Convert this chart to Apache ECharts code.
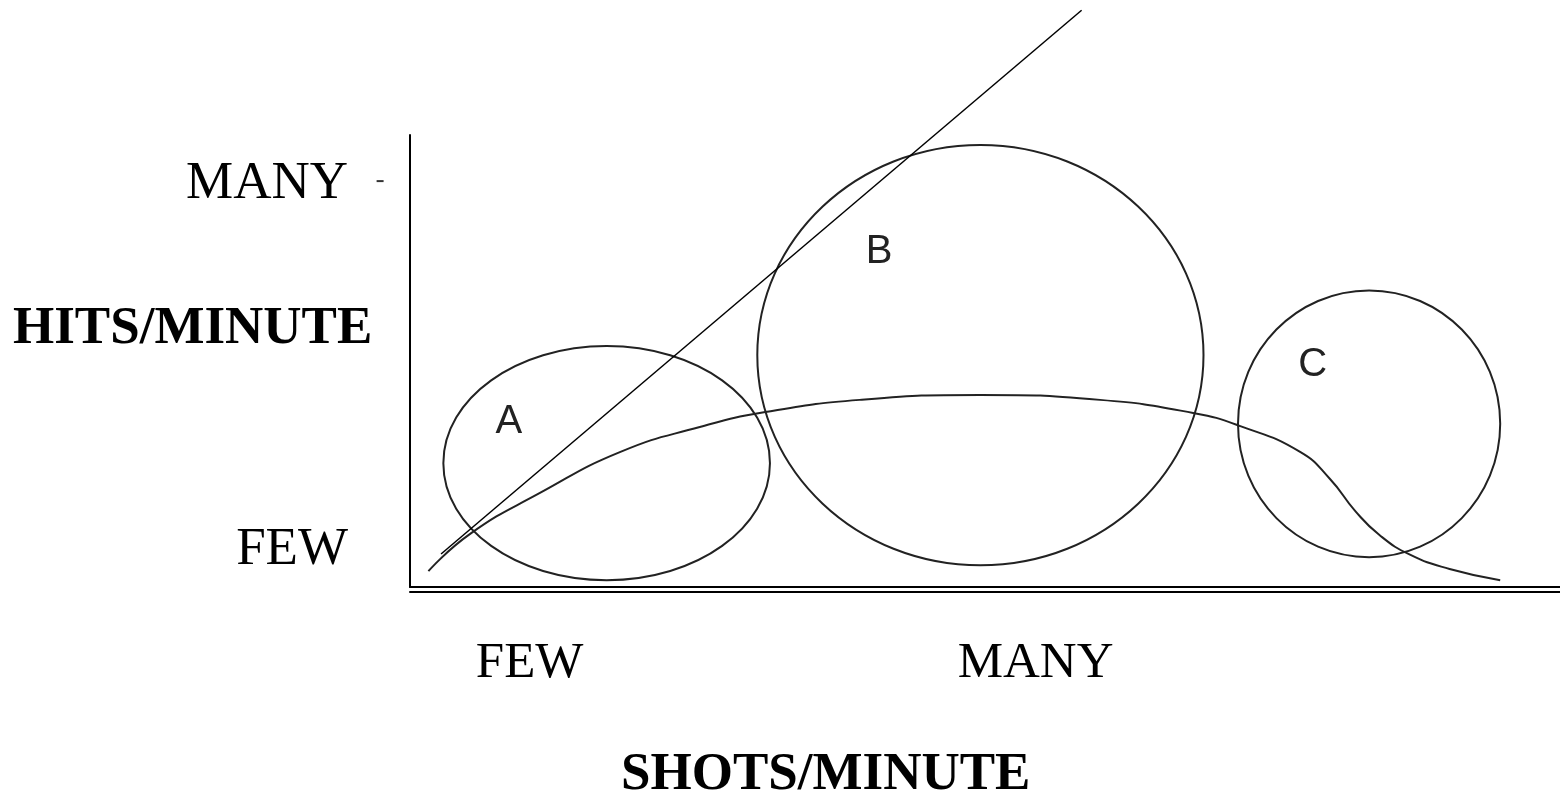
<!DOCTYPE html>
<html>
<head>
<meta charset="utf-8">
<script src="https://cdn.jsdelivr.net/npm/echarts@6/dist/echarts.min.js"></script>
<style>
  html, body { margin: 0; padding: 0; background: #fff; }
  #chart { width: 1560px; height: 798px; }
</style>
</head>
<body>
<div id="chart"></div>
<script>
// both axes run 0..100 (shots/minute across, hits/minute up)
var curveX = [1.6, 5.2, 11.3, 18.3, 25.2, 30.9, 39.1, 49.6, 60.0, 68.1, 72.2, 77.4, 80.0, 82.2, 84.3, 87.0, 90.4, 94.8]
var curveY = [3.5, 11.7, 20.8, 29.9, 35.4, 38.7, 41.4, 42.5, 41.4, 38.5, 35.6, 29.9, 23.9, 16.8, 11.5, 7.1, 4.0, 1.5]

// the straight "every shot a hit" line
var diagX = [2.7, 58.4]
var diagY = [7.3, 127.6]

// groups A, B, C drawn as ellipses
var groupNames = ['A', 'B', 'C']
var groupCx = [17.1, 49.6, 83.4]
var groupCy = [27.4, 51.3, 36.1]
var groupRx = [14.2, 19.4, 11.4]
var groupRy = [25.9, 46.5, 29.5]
var labelX = [8.6, 40.8, 78.5]
var labelY = [36.6, 74.2, 49.2]

// tick labels
var xTickValues = [10.4, 54.4]
var xTickLabels = ['FEW', 'MANY']
var yTickValues = [8.2, 89.2]
var yTickLabels = ['FEW', 'MANY']

// little stray dash beside MANY
var dashX = [-2.6]
var dashY = [89.8]

var serif = '"Liberation Serif", "Times New Roman", serif'

var myChart = echarts.init(document.getElementById('chart'))

var curveData = curveX.map(function (x, i) { return [x, curveY[i]] })
var diagData = diagX.map(function (x, i) { return [x, diagY[i]] })
var groupData = groupNames.map(function (n, i) {
  return [groupCx[i], groupCy[i], groupRx[i], groupRy[i], labelX[i], labelY[i]]
})
var dashData = dashX.map(function (x, i) { return [x, dashY[i]] })

myChart.setOption({
  animation: false,
  backgroundColor: '#fff',
  title: [
    {
      text: 'HITS/MINUTE', left: 13, top: 303, padding: 0,
      textStyle: { fontFamily: serif, fontWeight: 'bold', fontSize: 53, color: '#000' }
    },
    {
      text: 'SHOTS/MINUTE', left: 621, top: 749, padding: 0,
      textStyle: { fontFamily: serif, fontWeight: 'bold', fontSize: 53, color: '#000' }
    }
  ],
  grid: { left: 410, right: 0, top: 135, bottom: 211 },
  xAxis: [
    {
      type: 'value', min: 0, max: 100,
      axisLine: { show: true, onZero: false, lineStyle: { color: '#000', width: 2 } },
      axisTick: { show: false },
      splitLine: { show: false },
      axisLabel: {
        customValues: xTickValues,
        formatter: function (v) {
          var i = xTickValues.indexOf(v)
          return i >= 0 ? xTickLabels[i] : ''
        },
        fontFamily: serif, fontSize: 51, color: '#000',
        margin: 77, verticalAlign: 'middle'
      }
    },
    {
      type: 'value', min: 0, max: 100, position: 'bottom', offset: 5,
      axisLine: { show: true, onZero: false, lineStyle: { color: '#000', width: 2 } },
      axisTick: { show: false },
      splitLine: { show: false },
      axisLabel: { show: false }
    }
  ],
  yAxis: {
    type: 'value', min: 0, max: 100,
    axisLine: { show: true, onZero: false, lineStyle: { color: '#000', width: 2 } },
    axisTick: { show: false },
    splitLine: { show: false },
    axisLabel: {
      customValues: yTickValues,
      formatter: function (v) {
        var i = yTickValues.indexOf(v)
        return i >= 0 ? yTickLabels[i] : ''
      },
      fontFamily: serif, fontSize: 53, color: '#000', margin: 62
    }
  },
  series: [
    {
      type: 'line',
      data: curveData,
      smooth: 0.5,
      symbol: 'none',
      lineStyle: { color: '#222', width: 2 }
    },
    {
      type: 'line',
      data: diagData,
      clip: false,
      symbol: 'none',
      lineStyle: { color: '#000', width: 1.5 }
    },
    {
      type: 'custom',
      data: groupData,
      clip: false,
      renderItem: function (params, api) {
        var c = api.coord([api.value(0), api.value(1)])
        var s = api.size([api.value(2), api.value(3)])
        var t = api.coord([api.value(4), api.value(5)])
        return {
          type: 'group',
          children: [
            {
              type: 'ellipse',
              shape: { cx: c[0], cy: c[1], rx: s[0], ry: s[1] },
              style: { fill: 'none', stroke: '#222', lineWidth: 2 }
            },
            {
              type: 'text',
              x: t[0], y: t[1],
              style: {
                text: groupNames[params.dataIndex],
                font: '40px "Liberation Sans", Arial, sans-serif',
                fill: '#222', align: 'center', verticalAlign: 'middle'
              }
            }
          ]
        }
      }
    },
    {
      type: 'scatter',
      data: dashData,
      clip: false,
      symbol: 'rect',
      symbolSize: [7, 2],
      itemStyle: { color: '#000' }
    }
  ]
})
</script>
</body>
</html>
